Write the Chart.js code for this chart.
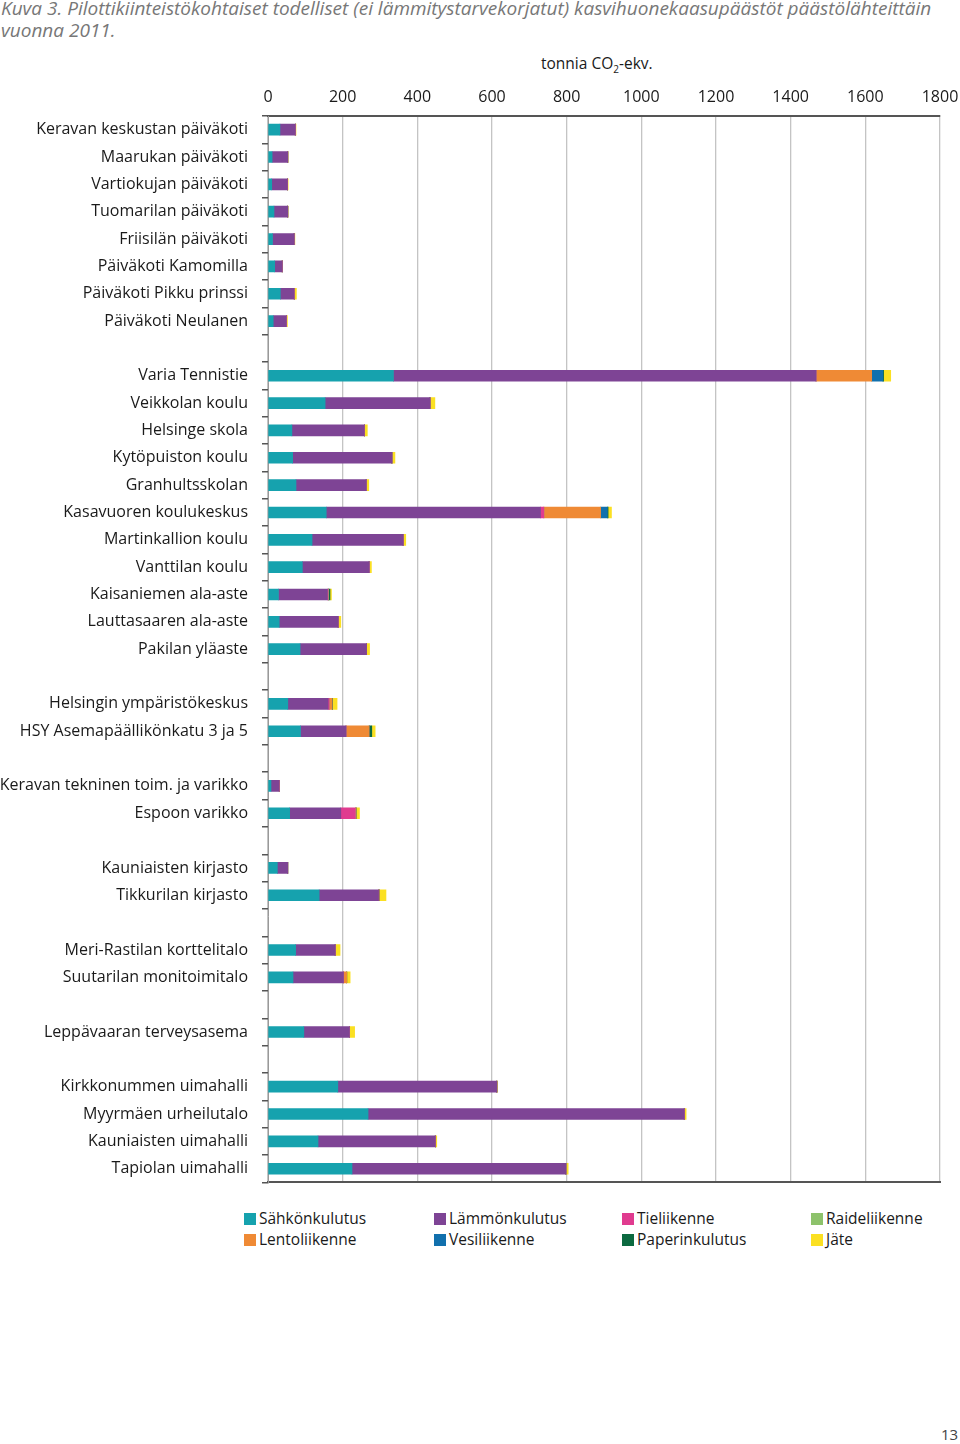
<!DOCTYPE html>
<html><head><meta charset="utf-8">
<script src="https://cdn.jsdelivr.net/npm/chart.js@4/dist/chart.umd.min.js"></script>
<style>
html,body{margin:0;padding:0;background:#fff;}
body{width:960px;height:1444px;position:relative;overflow:hidden;font-family:"Open Sans",sans-serif;}
#title{position:absolute;left:1px;top:-3px;white-space:nowrap;font-style:italic;font-size:19px;line-height:22px;color:#777;}
#unit{position:absolute;left:541px;top:52px;font-size:15.5px;color:#1a1a1a;}
#unit sub{font-size:10px;}
#wrap{position:absolute;left:0;top:0;width:960px;height:1210px;}
.lg{position:absolute;font-size:15.5px;color:#1a1a1a;line-height:18px;}
.lg i{display:inline-block;width:12px;height:12px;margin-right:3px;vertical-align:-1px;}
#page{position:absolute;left:941px;top:1424px;font-size:15px;color:#444;}
</style></head><body>
<div id="title">Kuva 3. Pilottikiinteistökohtaiset todelliset (ei lämmitystarvekorjatut) kasvihuonekaasupäästöt päästölähteittäin<br>vuonna 2011.</div>
<div id="unit">tonnia CO<sub>2</sub>-ekv.</div>
<div id="wrap"><canvas id="c" width="960" height="1206"></canvas></div>
<div id="legend"></div>
<div id="page">13</div>
<script>
const categories = [
 "Keravan keskustan päiväkoti","Maarukan päiväkoti","Vartiokujan päiväkoti","Tuomarilan päiväkoti","Friisilän päiväkoti","Päiväkoti Kamomilla","Päiväkoti Pikku prinssi","Päiväkoti Neulanen",
 "",
 "Varia Tennistie","Veikkolan koulu","Helsinge skola","Kytöpuiston koulu","Granhultsskolan","Kasavuoren koulukeskus","Martinkallion koulu","Vanttilan koulu","Kaisaniemen ala-aste","Lauttasaaren ala-aste","Pakilan yläaste",
 "",
 "Helsingin ympäristökeskus","HSY Asemapäällikönkatu 3 ja 5",
 "",
 "Keravan tekninen toim. ja varikko","Espoon varikko",
 "",
 "Kauniaisten kirjasto","Tikkurilan kirjasto",
 "",
 "Meri-Rastilan korttelitalo","Suutarilan monitoimitalo",
 "",
 "Leppävaaran terveysasema",
 "",
 "Kirkkonummen uimahalli","Myyrmäen urheilutalo","Kauniaisten uimahalli","Tapiolan uimahalli"
];
const sahko   = [32,11,10,16,12,18,33,14, null, 336,153,64,66,75,156,118,92,28,30,86, null, 53,87, null, 8,58, null, 25,137, null, 74,67, null, 96, null, 187,268,134,225];
const lampo   = [41,42,42,37,58,20,37,35, null, 1132,281,194,266,188,574,244,179,131,158,178, null, 108,122, null, 22,137, null, 28,159, null, 106,135, null, 122, null, 426,847,314,573];
const tie     = [0,0,0,0,0,0,0,0, null, 0,0,0,0,0,9,0,0,2,0,0, null, 3,0, null, 0,39, null, 0,0, null, 0,0, null, 0, null, 0,0,0,0];
const raide   = [0,0,0,0,0,0,0,0, null, 0,0,0,0,0,0,0,0,1,0,0, null, 0,0, null, 0,0, null, 0,0, null, 0,0, null, 0, null, 0,0,0,0];
const lento   = [0,0,0,0,0,0,1,0, null, 149,0,0,0,0,152,0,0,0,0,0, null, 8,62, null, 1,2, null, 0,2, null, 0,9, null, 0, null, 0,0,0,0];
const vesi    = [0,0,0,0,0,0,0,0, null, 30,0,0,0,0,18,0,0,0,0,0, null, 0,0, null, 0,0, null, 0,0, null, 0,0, null, 0, null, 0,0,0,0];
const paperi  = [0,0,0,0,0,0,0,0, null, 2,0,0,0,1,2,0,0,4,0,0, null, 1,7, null, 0,0, null, 0,0, null, 0,0, null, 0, null, 0,0,0,0];
const jate    = [2,1,2,1,2,0.5,5,3, null, 19,13,8,8,6,9,7,6,4,7,8, null, 12,9, null, 0,9, null, 0,18, null, 13,9, null, 14, null, 2,5,4,6];
const xTicks  = [0,200,400,600,800,1000,1200,1400,1600,1800];
const seriesNames = ["Sähkönkulutus","Lämmönkulutus","Tieliikenne","Raideliikenne","Lentoliikenne","Vesiliikenne","Paperinkulutus","Jäte"];

const colors = ["#16a2ae","#7e4495","#e03b8f","#8dc26b","#ef8a35","#1170ad","#0c6a40","#fbe022"];
const seriesData = [sahko,lampo,tie,raide,lento,vesi,paperi,jate];
const FONT = '"Open Sans", sans-serif';

new Chart(document.getElementById('c'), {
  type: 'bar',
  data: {
    labels: categories,
    datasets: seriesNames.map((n,i)=>({label:n, data:seriesData[i], backgroundColor:colors[i], barThickness:11, borderWidth:0, xAxisID:'x'}))
  },
  options: {
    indexAxis: 'y',
    responsive: false,
    animation: false,
    layout: {padding:{left:0,right:20,top:0,bottom:8}},
    plugins: {legend:{display:false}, tooltip:{enabled:false}},
    scales: {
      x: {
        position:'top', stacked:true, min:0, max:1800,
        afterBuildTicks(s){ s.ticks = xTicks.map(v=>({value:v})); },
        afterFit(s){ s.height = 116; s.paddingLeft = 0; s.paddingRight = 0; },
        ticks:{padding:9, color:'#1a1a1a', font:{family:FONT, size:16}, maxRotation:0, callback:(v)=>String(v)},
        grid:{color:'#c4c4c4', lineWidth:1.3, drawTicks:false},
        border:{display:true, color:'#555', width:2}
      },
      x2: {
        position:'bottom', min:0, max:1800, display:true,
        afterFit(s){ s.height = 0; s.paddingLeft = 0; s.paddingRight = 0; },
        ticks:{display:false},
        grid:{display:false, drawTicks:false},
        border:{display:true, color:'#555', width:2}
      },
      y: {
        stacked:true,
        afterFit(s){ s.width = 268; },
        ticks:{padding:14, color:'#1a1a1a', font:{family:FONT, size:16}, autoSkip:false},
        grid:{offset:true, drawOnChartArea:false, tickLength:6, color:'#555', lineWidth:1.5},
        border:{display:true, color:'#999', width:1}
      }
    }
  }
});

// legend (HTML)
const lg = document.getElementById('legend');
const colX = [244,434,622,811], rowY = [1209,1230];
seriesNames.forEach((n,i)=>{
  const d = document.createElement('div');
  d.className='lg';
  d.style.left = colX[i%4]+'px';
  d.style.top = rowY[Math.floor(i/4)]+'px';
  d.innerHTML = '<i style="background:'+colors[i]+'"></i>'+n;
  lg.appendChild(d);
});
</script>
</body></html>
